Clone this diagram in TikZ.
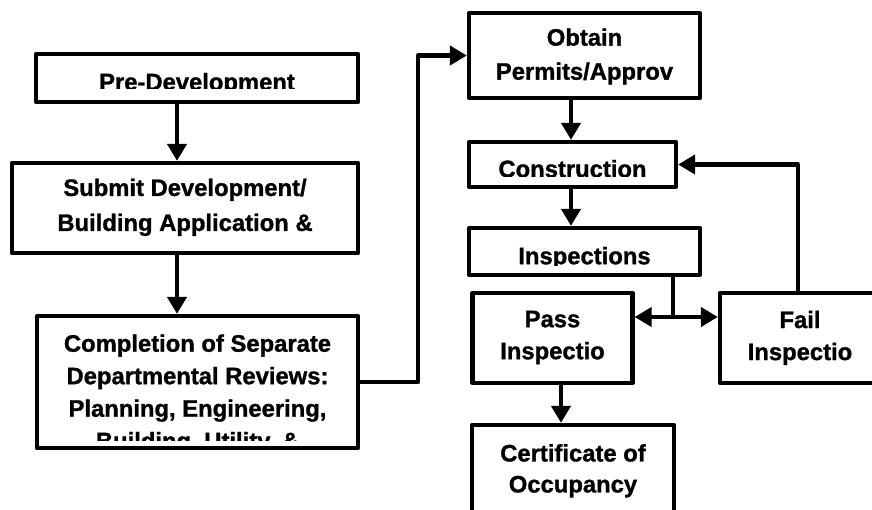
\documentclass[tikz,border=0pt]{standalone}
\usepackage{fontspec}
\setmainfont{Liberation Sans}[BoldFeatures={FakeBold=1.2}]
\usetikzlibrary{arrows.meta}

\begin{document}
\begin{tikzpicture}[x=1pt, y=-1pt,
    box/.style={draw, line width=4.3pt, line join=round, inner sep=0pt},
    txt/.style={font=\bfseries\fontsize{23.8}{34}\selectfont, align=center,
      inner sep=0pt, anchor=north, execute at begin node=\strut},
    arr/.style={line width=4.3pt, line join=round, -{Triangle[length=17pt, width=19pt]}}]
  \useasboundingbox (0,0) rectangle (872,510);
  \clip (0,0) rectangle (872,510);

  % left column
  \node[box, minimum width=322pt, minimum height=48pt] (pre) at (197,78) {};
  \begin{scope}
    \clip (pre.north west) rectangle ([yshift=16pt]pre.south east);
    \node[txt] (pretxt) at (197,66.2) {Pre-Development};
  \end{scope}

  \node[box, minimum width=346pt, minimum height=90pt] (sub) at (185,208) {};
  \node[txt, font=\bfseries\fontsize{23.8}{35}\selectfont] (subtxt) at (185,178.5)
    {Submit Development/\\Building Application \&};

  \node[box, minimum width=321pt, minimum height=132pt] (comp) at (197.5,382) {};
  \begin{scope}
    \clip (comp.north west) rectangle ([yshift=10pt]comp.south east);
    \node[txt, font=\bfseries\fontsize{23.8}{32.5}\selectfont] (comptxt) at (197.5,334.25)
      {Completion of Separate\\Departmental Reviews:\\Planning, Engineering,\\Building, Utility, \&};
  \end{scope}

  % right column
  \node[box, minimum width=231pt, minimum height=85pt] (obt) at (584.5,55.5) {};
  \node[txt] (obttxt) at (584.5,28.2) {Obtain\\Permits/Approv};

  \node[box, minimum width=207pt, minimum height=45pt] (con) at (572.5,164.5) {};
  \begin{scope}
    \clip (con.north west) rectangle ([yshift=13pt]con.south east);
    \node[txt] (contxt) at (572.5,153.2) {Construction};
  \end{scope}

  \node[box, minimum width=231pt, minimum height=47pt] (ins) at (584.5,251.5) {};
  \begin{scope}
    \clip (ins.north west) rectangle ([yshift=12pt]ins.south east);
    \node[txt] (instxt) at (584.5,240.2) {Inspections};
  \end{scope}

  \node[box, minimum width=160pt, minimum height=90pt] (pass) at (552.5,338) {};
  \node[txt, font=\bfseries\fontsize{23.8}{32}\selectfont] (passtxt) at (552.5,310.6)
    {Pass\\Inspectio};

  \node[box, minimum width=160pt, minimum height=90pt] (fail) at (800,338) {};
  \node[txt, font=\bfseries\fontsize{23.8}{32}\selectfont] (failtxt) at (800,310.6)
    {Fail\\Inspectio};

  \node[box, minimum width=202pt, minimum height=90pt] (cert) at (573,470) {};
  \node[txt, font=\bfseries\fontsize{23.8}{31}\selectfont] (certtxt) at (573,444)
    {Certificate of\\Occupancy};

  % connectors
  \coordinate (lft) at (177,0);
  \coordinate (mid) at (571,0);
  \coordinate (split) at (673,317);
  \coordinate (rgt) at (798,0);
  \coordinate (low) at (561,0);

  \draw[arr] (pre.south -| lft) -- (sub.north -| lft);
  \draw[arr] (sub.south -| lft) -- (comp.north -| lft);
  \draw[arr] (comp.east) -- ++(58,0) |- (obt.west);
  \draw[arr] (obt.south -| mid) -- (con.north -| mid);
  \draw[arr] (con.south -| mid) -- (ins.north -| mid);
  \draw[line width=4.3pt] (ins.south -| split) -- (split);
  \draw[arr] (split) -- (split -| pass.east);
  \draw[arr] (split) -- (split -| fail.west);
  \draw[arr] (fail.north -| rgt) |- (con.east);
  \draw[arr] (pass.south -| low) -- (cert.north -| low);
\end{tikzpicture}
\end{document}
